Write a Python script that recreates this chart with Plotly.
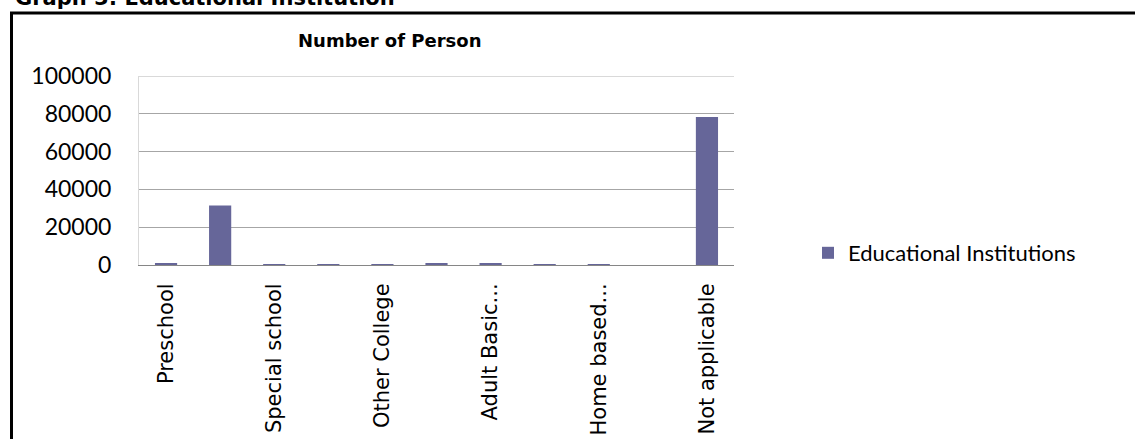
import plotly.graph_objects as go

# Educational institution attended (number of persons)
categories = [
    "Preschool",
    "School",
    "Special school",
    "FET College",
    "Other College",
    "Higher Educational Institution",
    "Adult Basic...",
    "Literacy classes",
    "Home based...",
    "Unspecified",
    "Not applicable",
]
persons = [700, 31500, 100, 500, 200, 900, 900, 150, 150, 0, 78300]
shown_labels = categories[::2]

y_ticks = [0, 20000, 40000, 60000, 80000, 100000]
y_tick_text = ["0", "20000", "40000", "60000", "80000", "100000"]
Y_MAX = 100000

W, H = 1135, 439
PLOT_L, PLOT_R, PLOT_T, PLOT_B = 139, 734, 76, 265


def px_x(x):
    return (x - PLOT_L) / (PLOT_R - PLOT_L)


def px_y(y):
    return (PLOT_B - y) / (PLOT_B - PLOT_T)


fig = go.Figure()
fig.add_trace(go.Bar(
    x=categories,
    y=persons,
    name="Educational Institutions",
    marker=dict(color="#666699", line=dict(width=0)),
))

fig.update_layout(
    width=W,
    height=H,
    paper_bgcolor="white",
    plot_bgcolor="white",
    margin=dict(l=PLOT_L, r=W - PLOT_R, t=PLOT_T, b=H - PLOT_B, autoexpand=False),
    bargap=0.59,
    showlegend=True,
    legend=dict(
        x=px_x(808), y=px_y(253), xanchor="left", yanchor="middle",
        font=dict(family="Lato", size=22, color="#000000"),
        bgcolor="rgba(0,0,0,0)",
    ),
    xaxis=dict(
        type="category",
        tickmode="array",
        tickvals=shown_labels,
        ticktext=shown_labels,
        tickangle=-90,
        tickfont=dict(family="DejaVu Sans", size=21, color="#000000"),
        showline=True,
        linecolor="#868686",
        linewidth=1,
        showgrid=False,
        ticks="",
        ticklabelstandoff=9,
    ),
    yaxis=dict(
        range=[0, Y_MAX],
        tickmode="array",
        tickvals=y_ticks,
        ticktext=y_tick_text,
        tickfont=dict(family="Lato", size=23, color="#000000"),
        showgrid=True,
        gridcolor="#a6a6a6",
        gridwidth=1,
        zeroline=False,
        showline=True,
        linecolor="#d9d9d9",
        linewidth=1,
        ticks="",
        ticklabelstandoff=22,
    ),
    annotations=[
        dict(
            text="<b>Number of Person</b>",
            xref="paper", yref="paper",
            x=px_x(390), y=px_y(40),
            xanchor="center", yanchor="middle",
            showarrow=False,
            font=dict(family="DejaVu Sans", size=18, color="#000000"),
        ),
        dict(
            text="<b>Graph 5: Educational Institution</b>",
            xref="paper", yref="paper",
            x=px_x(13), y=px_y(-2),
            xanchor="left", yanchor="middle",
            showarrow=False,
            font=dict(family="DejaVu Sans", size=21, color="#000000"),
        ),
    ],
    shapes=[
        # light top border of the plot area
        dict(type="line", xref="paper", yref="y", x0=0, x1=1, y0=Y_MAX, y1=Y_MAX,
             line=dict(color="#d9d9d9", width=2), layer="above"),
        # frame around the whole chart
        dict(type="rect", xref="paper", yref="paper",
             x0=px_x(11.5), x1=px_x(W + 20), y0=px_y(H + 20), y1=px_y(13),
             line=dict(color="#000000", width=3), fillcolor="rgba(0,0,0,0)",
             layer="above"),
    ],
)

fig.write_html("out.html")
